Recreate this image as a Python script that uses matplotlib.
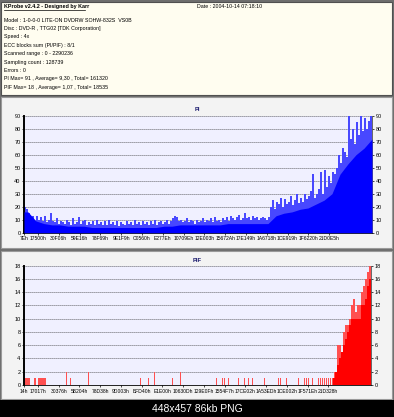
import numpy as np
import matplotlib
matplotlib.use("Agg")
import matplotlib.pyplot as plt
from matplotlib.patches import Rectangle

W, H = 394, 417

header_title = "KProbe v2.4.2 - Designed by Karr"
header_date = "Date : 2004-10-14 07:18:10"
header_lines = [
    "Model : 1-0-0-0 LITE-ON DVDRW SOHW-832S  VS0B",
    "Disc : DVD-R , TTG02 [TDK Corporation]",
    "Speed : 4x",
    "ECC blocks sum (PI/PIF) : 8/1",
    "Scanned range : 0 - 2290236",
    "Sampling count : 128739",
    "Errors : 0",
    "PI Max= 91 , Average= 9,30 , Total= 161320",
    "PIF Max= 18 , Average= 1,07 , Total= 18535",
]

pi_labels = ["7Eh", "17500h", "30F06h", "59E16h", "78F69h", "9E1F9h", "C0560h",
             "E277Eh", "10709Eh", "12E003h", "15672Ah", "17E149h", "1A6718h",
             "1CE919h", "1F6220h", "21D0E5h"]
pif_labels = ["14h", "17017h", "30376h", "5B204h", "78D38h", "9D003h", "BFD40h",
              "E1E00h", "10630Dh", "129E0Fh", "1554F7h", "17CE02h", "1A53EDh",
              "1CE002h", "1F571Eh", "21D328h"]

# PI peak per sample column (174 columns across the scan)
pi_peak = [
    20, 18, 15, 12, 13, 9, 13, 10, 12, 9,
    13, 8, 10, 15, 9, 8, 11, 7, 9, 8,
    7, 10, 8, 6, 11, 7, 8, 12, 7, 9,
    10, 6, 8, 7, 9, 6, 10, 7, 8, 6,
    9, 6, 10, 7, 8, 6, 9, 5, 8, 7,
    6, 9, 7, 8, 6, 10, 7, 8, 6, 9,
    7, 8, 6, 9, 7, 10, 6, 8, 9, 7,
    8, 10, 7, 9, 11, 13, 12, 9, 10, 8,
    9, 11, 8, 10, 9, 7, 10, 8, 9, 11,
    8, 10, 9, 11, 8, 12, 9, 10, 8, 11,
    10, 12, 9, 13, 11, 10, 12, 14, 10, 11,
    15, 11, 12, 10, 13, 11, 12, 10, 11, 12,
    11, 10, 12, 20, 25, 18, 24, 22, 27, 20,
    26, 22, 24, 28, 21, 25, 30, 23, 27, 24,
    30, 26, 28, 32, 45, 27, 30, 34, 47, 30,
    48, 35, 44, 38, 47, 45, 50, 60, 54, 65,
    62, 58, 90, 72, 80, 68, 85, 75, 90, 78,
    88, 80, 86, 91,
]
# PI dense level, one value per 4 columns
pi_body = [16, 9, 7, 6, 6, 5, 5, 5, 4, 4, 4, 4, 4, 4, 4, 4, 4, 5, 5, 6, 6, 6,
           6, 6, 6, 7, 7, 7, 7, 7, 7, 13, 15, 16, 18, 19, 22, 25, 30, 45, 53,
           60, 65, 72]

pif_peak = [
    1, 1, 1, 0, 0, 1, 0, 1, 1, 1,
    1, 0, 0, 0, 0, 0, 0, 0, 0, 0,
    0, 2, 0, 1, 0, 0, 0, 0, 0, 0,
    0, 0, 2, 0, 0, 0, 0, 0, 0, 0,
    0, 0, 0, 0, 0, 0, 0, 0, 0, 0,
    0, 0, 0, 0, 0, 0, 0, 0, 1, 0,
    0, 0, 1, 0, 0, 2, 0, 0, 0, 0,
    0, 0, 0, 0, 1, 0, 0, 0, 2, 0,
    0, 0, 0, 0, 0, 0, 0, 0, 0, 0,
    0, 0, 0, 0, 0, 0, 1, 0, 0, 1,
    1, 0, 1, 0, 0, 0, 0, 1, 0, 0,
    1, 0, 1, 0, 1, 0, 0, 0, 0, 0,
    1, 0, 0, 0, 0, 0, 0, 1, 1, 0,
    0, 1, 0, 0, 0, 0, 0, 1, 0, 0,
    1, 1, 1, 0, 1, 0, 0, 1, 1, 1,
    1, 1, 1, 1, 1, 2, 2, 6, 6, 5,
    8, 9, 9, 10, 12, 13, 11, 12, 12, 14,
    15, 16, 17, 18,
]
pif_body = [0] * 155 + [1, 2, 3, 4, 5, 6, 7, 8, 9, 10, 10, 10, 10, 10, 12,
                         12, 13, 15, 16]

N = len(pi_peak)
xticks = [0] + list(7 + 10.4 * np.arange(len(pi_labels) - 1))

plt.rcParams["font.family"] = ["Liberation Sans", "DejaVu Sans"]

fig = plt.figure(figsize=(W / 100, H / 100), dpi=100)
fig.patch.set_facecolor("#6E6E6E")

bg = fig.add_axes([0, 0, 1, 1])
bg.set_xlim(0, W)
bg.set_ylim(H, 0)
bg.axis("off")

# header box
bg.add_patch(Rectangle((1.5, 1.5), W - 3, 93.5, facecolor="#FFFDF0",
                       edgecolor="#505050", lw=0.8))
bg.text(4, 6.5, header_title, fontsize=3.9, fontweight="bold", va="center")
bg.plot([4, 85], [9.6, 9.6], color="black", lw=0.5)
bg.text(197, 6.5, header_date, fontsize=3.8, va="center")
for i, line in enumerate(header_lines):
    bg.text(4, 20 + 8.4 * i, line, fontsize=3.8, va="center")

# chart panels
bg.add_patch(Rectangle((1.5, 97), W - 3, 151, facecolor="#F3F3F3",
                       edgecolor="#9A9A9A", lw=0.8))
bg.add_patch(Rectangle((1.5, 251), W - 3, 148, facecolor="#F3F3F3",
                       edgecolor="#9A9A9A", lw=0.8))
bg.text(197, 109, "PI", fontsize=4.2, fontweight="bold", color="#1A1A6E",
        ha="center", va="center")
bg.text(197, 260, "PIF", fontsize=4.2, fontweight="bold", color="#1A1A6E",
        ha="center", va="center")

# bottom caption strip
bg.add_patch(Rectangle((0, 400), W, 17, facecolor="black", edgecolor="none"))
bg.text(197, 408.5, "448x457 86kb PNG", fontsize=7.5, color="white",
        ha="center", va="center")


def px_axes(left, top, right, bottom):
    return fig.add_axes([left / W, 1 - bottom / H, (right - left) / W,
                         (bottom - top) / H])


def style(ax, ymax, step, labels):
    ax.set_facecolor("#F0F0FF")
    ax.set_xlim(0, N)
    ax.set_ylim(0, ymax)
    yt = np.arange(0, ymax + 1, step)
    ax.set_yticks(yt)
    ax.set_yticklabels([str(v) for v in yt])
    for y in yt[1:]:
        ax.axhline(y, color="#333333", lw=0.6, ls=(0, (1, 1.4)), zorder=1,
                   clip_on=False)
    ax.set_xticks(xticks)
    ax.set_xticklabels(labels)
    ax.tick_params(axis="y", left=True, right=True, labelleft=True,
                   labelright=True, labelsize=4.0, length=1.5, width=0.5,
                   pad=1)
    ax.tick_params(axis="x", labelsize=3.6, length=1.2, width=0.5, pad=1.5)
    ax.spines["left"].set_linewidth(1.4)
    ax.spines["left"].set_color("black")
    ax.spines["bottom"].set_linewidth(0.6)
    ax.spines["right"].set_linewidth(0.6)
    ax.spines["right"].set_color("#505050")
    ax.spines["top"].set_visible(False)


cols = np.arange(N) + 0.5

ax1 = px_axes(24, 115.7, 372, 232.7)
ax1.bar(cols, pi_peak, width=0.6, color="#4848FF", lw=0, zorder=2)
body_x = np.arange(len(pi_body)) * 4 + 2
ax1.fill_between(np.r_[0, body_x, N], np.r_[pi_body[0], pi_body, pi_body[-1]],
                 color="#0000FF", lw=0, zorder=3)
style(ax1, 90, 10, pi_labels)

ax2 = px_axes(24, 265.7, 371, 385)
ax2.bar(cols, pif_peak, width=0.6, color="#FF5050", lw=0, zorder=2)
ax2.stairs(pif_body, np.arange(len(pif_body) + 1), fill=True,
           color="#FF0000", zorder=3)
style(ax2, 18, 2, pif_labels)

fig.savefig("out.png", dpi=100, facecolor=fig.get_facecolor())
